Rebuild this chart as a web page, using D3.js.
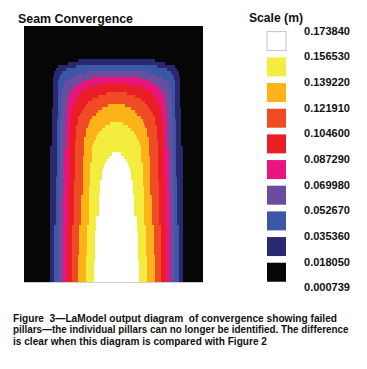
<!DOCTYPE html>
<html>
<head>
<meta charset="utf-8">
<script src="https://cdn.jsdelivr.net/npm/d3@7/dist/d3.min.js"></script>
<style>
  html, body { margin: 0; padding: 0; background: #ffffff; }
  svg { display: block; }
  text { font-family: "Liberation Sans", Arial, Helvetica, sans-serif; font-weight: bold; fill: #111; }
</style>
</head>
<body>
<svg id="chart" width="367" height="369"></svg>
<script>
// ---------- DATA ----------
const chartTitle = "Seam Convergence";
const legendTitle = "Scale (m)";
// legend boundary values (top to bottom)
const scaleValues = ["0.173840", "0.156530", "0.139220", "0.121910", "0.104600",
                     "0.087290", "0.069980", "0.052670", "0.035360", "0.018050", "0.000739"];
// contour levels, lowest (0) to highest (9)
const levels = [0, 1, 2, 3, 4, 5, 6, 7, 8, 9];
// grid size (cells)
const gridCols = 89;
const gridRows = 85;
const centerCol = 46;
// convergence grid, run-length by row:
// [row count, half-width (cells) of region >= level 1, >= 2, ... >= 9]
const convergenceRows = [
  [11, 0, 0, 0, 0, 0, 0, 0, 0, 0],
  [1, 19, 0, 0, 0, 0, 0, 0, 0, 0],
  [1, 24, 0, 0, 0, 0, 0, 0, 0, 0],
  [1, 29, 20, 0, 0, 0, 0, 0, 0, 0],
  [1, 30, 25, 0, 0, 0, 0, 0, 0, 0],
  [1, 31, 27, 15, 0, 0, 0, 0, 0, 0],
  [1, 31, 28, 20, 0, 0, 0, 0, 0, 0],
  [1, 31.5, 28.5, 23, 12, 0, 0, 0, 0, 0],
  [1, 31.5, 29, 25, 16, 0, 0, 0, 0, 0],
  [1, 31.5, 29, 26, 19, 7, 0, 0, 0, 0],
  [1, 31.5, 29, 26.5, 21, 13, 0, 0, 0, 0],
  [1, 31.5, 29, 27, 22, 16, 0, 0, 0, 0],
  [1, 31.5, 29, 27, 23, 18, 5, 0, 0, 0],
  [1, 31.5, 29, 27, 23.5, 19, 9, 0, 0, 0],
  [1, 31.5, 29, 27.5, 24, 20, 12, 0, 0, 0],
  [1, 31.5, 29, 27.5, 24, 20.5, 14, 0, 0, 0],
  [1, 31.5, 29, 27.5, 24.5, 21, 15, 4, 0, 0],
  [1, 32, 29, 27.5, 24.5, 22, 16, 7, 0, 0],
  [1, 32, 29, 27.5, 24.5, 22, 17, 9, 0, 0],
  [1, 32, 29, 27.5, 24.5, 22, 18, 10, 0, 0],
  [1, 32, 29, 27.5, 25, 23, 19, 12, 0, 0],
  [1, 32, 29.5, 28, 25, 23, 19, 13, 0, 0],
  [1, 32, 29.5, 28, 25, 23, 19, 13.5, 3, 0],
  [1, 32, 29.5, 28, 25, 23, 20, 14, 5.5, 0],
  [1, 32, 29.5, 28, 25, 23, 20, 15, 7, 0],
  [1, 32, 29.5, 28, 25, 23, 20, 15, 8.5, 0],
  [1, 32, 29.5, 28, 25, 23.5, 20, 15, 9.5, 0],
  [1, 32, 29.5, 28, 25, 23.5, 20, 16, 10, 0],
  [1, 32, 29.5, 28, 25, 23.5, 20.5, 16, 11, 0],
  [1, 32, 29.5, 28, 25, 23.5, 20.5, 16, 11.5, 0],
  [1, 33, 29.5, 28, 25, 23.5, 20.5, 16, 12, 0],
  [1, 33, 29.5, 28, 26, 23.5, 20.5, 16, 12, 0],
  [1, 33, 29.5, 28, 26, 23.5, 20.5, 16, 12, 2],
  [1, 33, 29.5, 28, 26, 23.5, 20.5, 16.5, 12, 3.5],
  [1, 33, 29.5, 28, 26, 23.5, 20.5, 16.5, 12, 4.5],
  [1, 33, 29.5, 28, 26, 23.5, 20.5, 16.5, 13, 5.5],
  [1, 33, 29.5, 28.5, 26, 23.5, 20.5, 16.5, 13, 6],
  [1, 33, 29.5, 28.5, 26, 23.5, 20.5, 16.5, 13, 6.5],
  [2, 33, 29.5, 28.5, 26, 23.5, 20.5, 16.5, 13, 7],
  [1, 33, 30, 28.5, 26, 23.5, 20.5, 16.5, 13, 7],
  [2, 33, 30, 28.5, 26, 24, 21, 16.5, 13, 8],
  [3, 33, 30, 28.5, 26, 24, 21, 16.5, 13.5, 8],
  [7, 33, 30, 28.5, 26.5, 24, 21, 17.5, 13.5, 8.5],
  [3, 33, 30, 28.5, 26.5, 24, 21, 17.5, 13.5, 10],
  [2, 33, 31, 29, 26.5, 24.5, 22, 18.5, 14.5, 10],
  [8, 33, 31, 29, 26.5, 24.5, 22, 18.5, 14.5, 10.5],
  [2, 33, 31, 29, 26.5, 24.5, 22, 19, 15, 10.5],
  [7, 33, 31, 29, 26.5, 24.5, 22, 19, 15, 11]
];
const captionLines = [
  "Figure  3\u2014LaModel output diagram  of convergence showing failed",
  "pillars\u2014the individual pillars can no longer be identified. The difference",
  "is clear when this diagram is compared with Figure 2"
];

// ---------- STYLE ----------
const palette = ["#060606", "#2a2870", "#3b58a8", "#6a4d9f", "#e9157e",
                 "#ea1d26", "#ef4b25", "#fbb317", "#f4ec3e", "#ffffff"];

// ---------- BUILD ----------
const svg = d3.select("#chart");

// expand run-length rows
const rows = [];
convergenceRows.forEach(r => {
  for (let i = 0; i < r[0]; i++) rows.push(r.slice(1));
});

const plot = { x0: 24, x1: 203, y0: 26, y1: 282 };
const x = d3.scaleLinear().domain([0, gridCols]).range([plot.x0, plot.x1]);
const y = d3.scaleBand().domain(d3.range(gridRows)).range([plot.y0, plot.y1]).padding(0);
const color = d3.scaleOrdinal().domain(levels).range(palette);

// background = lowest level
svg.append("rect")
  .attr("x", x(0)).attr("y", plot.y0)
  .attr("width", x(gridCols) - x(0)).attr("height", plot.y1 - plot.y0)
  .attr("fill", color(0));

// bands: painted level by level so higher levels cover lower ones
const cells = [];
levels.slice(1).forEach(lv => {
  rows.forEach((hw, ri) => {
    const h = hw[lv - 1];
    if (h > 0) cells.push({ row: ri, level: lv, h: h });
  });
});
svg.append("g").attr("shape-rendering", "crispEdges")
  .selectAll("rect").data(cells).join("rect")
  .attr("x", d => x(centerCol - d.h))
  .attr("width", d => x(centerCol + d.h) - x(centerCol - d.h))
  .attr("y", d => y(d.row))
  .attr("height", d => y.bandwidth() + (d.row < gridRows - 1 ? 0.5 : 0))
  .attr("fill", d => color(d.level));

// bottom hairline
svg.append("line")
  .attr("x1", plot.x0).attr("x2", plot.x1 + 1)
  .attr("y1", plot.y1 + 0.5).attr("y2", plot.y1 + 0.5)
  .attr("stroke", "#cfcfcf").attr("stroke-width", 1);

// title
svg.append("text")
  .attr("x", 18).attr("y", 22.5)
  .attr("font-size", 13)
  .attr("textLength", 115).attr("lengthAdjust", "spacingAndGlyphs")
  .text(chartTitle);

// legend
svg.append("text")
  .attr("x", 249).attr("y", 21.5)
  .attr("font-size", 12)
  .attr("textLength", 54).attr("lengthAdjust", "spacingAndGlyphs")
  .text(legendTitle);

const ly = d3.scaleLinear().domain([0, scaleValues.length - 1]).range([30.7, 287.4]);
const swatchLevels = levels.slice().reverse(); // top: highest
svg.append("g").selectAll("rect").data(swatchLevels).join("rect")
  .attr("x", 267).attr("y", (d, i) => ly(i) + 1)
  .attr("width", 19).attr("height", 19)
  .attr("fill", d => color(d))
  .attr("stroke", d => d === 9 ? "#b5b5b5" : "none")
  .attr("stroke-width", 0.8);

svg.append("g").selectAll("text").data(scaleValues).join("text")
  .attr("x", 304).attr("y", (d, i) => ly(i) + 3.8)
  .attr("font-size", 11)
  .attr("textLength", 46).attr("lengthAdjust", "spacingAndGlyphs")
  .text(d => d);

// caption
const capWidths = [324, 335.5, 254];
svg.append("g").selectAll("text").data(captionLines).join("text")
  .attr("x", 13).attr("y", (d, i) => 321.5 + i * 11.5)
  .attr("font-size", 10)
  .style("font-family", "'Liberation Sans Narrow', 'Arial Narrow', 'Liberation Sans', sans-serif")
  .style("white-space", "pre")
  .attr("fill", "#1a1a1a")
  .attr("textLength", (d, i) => capWidths[i]).attr("lengthAdjust", "spacingAndGlyphs")
  .text(d => d);
</script>
</body>
</html>
